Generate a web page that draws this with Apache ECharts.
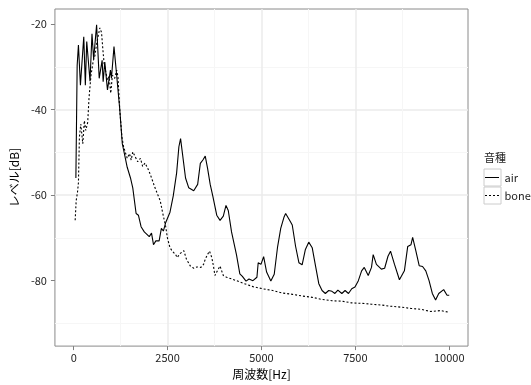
<!DOCTYPE html>
<html>
<head>
<meta charset="utf-8">
<script src="https://cdn.jsdelivr.net/npm/echarts@6/dist/echarts.min.js"></script>
<style>
  html, body { margin: 0; padding: 0; background: #fff; }
  #chart { width: 531px; height: 385px; }
</style>
</head>
<body>
<div id="chart"></div>
<script>
// x ticks / y ticks / legend
const xTicks = [0, 2500, 5000, 7500, 10000];
const yTicks = [-80, -60, -40, -20];
const seriesNames = ['air', 'bone'];

// air conduction spectrum (Hz, dB)
const airHz = [58, 92, 126, 179, 268, 310, 347, 389, 434, 487, 531, 610, 679, 757, 784, 828, 899, 978, 1005, 1073,
  1144, 1178, 1223, 1294, 1354, 1425, 1512, 1573, 1662, 1723, 1794, 1880, 2012, 2072, 2125, 2188, 2275, 2335, 2388, 2451,
  2564, 2651, 2741, 2801, 2846, 2888, 2978, 3064, 3196, 3301, 3372, 3440, 3503, 3564, 3635, 3703, 3809, 3897, 3984, 4055,
  4116, 4203, 4334, 4424, 4492, 4589, 4668, 4773, 4879, 4913, 4987, 5058, 5137, 5250, 5340, 5426, 5513, 5602, 5644, 5776,
  5820, 5907, 5997, 6083, 6170, 6259, 6351, 6438, 6527, 6614, 6701, 6791, 6877, 6956, 7035, 7140, 7227, 7317, 7404, 7490,
  7580, 7667, 7738, 7843, 7930, 7975, 8061, 8193, 8280, 8369, 8437, 8543, 8674, 8806, 8895, 8982, 9026, 9113, 9200, 9290,
  9376, 9463, 9550, 9637, 9721, 9765, 9852, 9942, 10000];
const airDb = [-56, -29.7, -24.9, -34.3, -23, -34.3, -24.1, -24.5, -33.4, -22.3, -28.2, -20.2, -32.7, -28.5, -33.5, -28.9, -35.4, -30.8, -32.7, -25.3,
  -32, -32.3, -39.6, -48, -50.5, -53.5, -56, -58.3, -64.3, -64.7, -67.4, -68.6, -69.7, -68.9, -71.6, -70.7, -70.7, -67.8, -68.4, -66.4,
  -64, -60.2, -54.8, -48.7, -46.8, -47.2, -56, -58.3, -59, -57.5, -52.6, -51.8, -50.9, -53.7, -57.5, -60.2, -64.7, -65.9, -64.9, -62.4,
  -63.6, -68.6, -73.9, -78.4, -79, -80.1, -79.6, -80, -79.2, -75.8, -76.2, -74.4, -78, -80.1, -78.5, -72.3, -67.8, -65.1, -64.3, -66.3,
  -67, -71.9, -75.8, -76.3, -72.7, -71, -72.3, -76.5, -80.7, -82.3, -83, -82.3, -82.5, -83, -82.2, -83, -82.3, -83, -81.9, -81.5,
  -80, -77.7, -76.9, -78.8, -76.9, -73.9, -76.2, -77.3, -77.1, -74.3, -73.1, -76.2, -79.8, -77.7, -72, -71.6, -69.9, -73.1, -76.5, -76.7,
  -77.7, -80, -83, -84.5, -83, -83.4, -82.1, -83.4, -83.4];

// bone conduction spectrum (Hz, dB)
const boneHz = [39, 66, 100, 126, 152, 189, 242, 284, 321, 373, 408, 460, 521, 565, 610, 652, 697, 741, 776, 810,
  855, 899, 942, 986, 1031, 1091, 1144, 1178, 1223, 1283, 1328, 1425, 1486, 1531, 1573, 1636, 1705, 1776, 1836, 1899,
  1970, 2041, 2101, 2165, 2233, 2304, 2365, 2451, 2495, 2564, 2625, 2714, 2756, 2827, 2932, 3003, 3108, 3196, 3283, 3388,
  3459, 3503, 3564, 3616, 3677, 3722, 3761, 3827, 3897, 3940, 3984, 4071, 4203, 4334, 4510, 4773, 5036, 5299, 5562, 5826,
  6089, 6352, 6615, 6877, 7140, 7404, 7667, 7930, 8193, 8456, 8719, 8982, 9245, 9508, 9771, 10000];
const boneDb = [-65.9, -61.3, -59.4, -57.1, -46.4, -43.4, -48, -42.6, -44.9, -43, -37.3, -32, -28.6, -27.4, -24.7, -22.8, -20.9, -22, -25.9, -29.3,
  -28.9, -33.1, -32.3, -36.2, -32, -32.7, -30.8, -32.3, -39.6, -46.4, -48.7, -51.4, -50.3, -51.8, -49.9, -51, -52.2, -51.4, -53.3, -52.5,
  -53.7, -55.2, -56.7, -58.3, -59.8, -61.3, -64, -67.4, -70, -72.3, -73.1, -73.9, -74.6, -73.7, -73, -75, -76.6, -77.1, -76.8, -76.9,
  -76.2, -75, -73.9, -73.1, -74.6, -76.6, -78.8, -77.7, -76.6, -77.7, -78.8, -79.2, -79.6, -80, -80.6, -81.4, -81.9, -82.3, -82.9, -83.2,
  -83.6, -83.9, -84.4, -84.7, -84.8, -85.2, -85.3, -85.5, -85.7, -86, -86.2, -86.5, -86.7, -87.2, -87, -87.4];

const font = '"Noto Sans CJK JP", "Noto Sans", sans-serif';

// legend keys: solid bar and short dashes
const solidIcon = 'path://M0,0H14V1H0Z';
const dottedIcon = 'path://M0,0H2V1H0Z M4,0H6V1H4Z M8,0H10V1H8Z M12,0H14V1H12Z';

const chart = echarts.init(document.getElementById('chart'), null, { renderer: 'canvas' });

const option = {
  animation: false,
  backgroundColor: '#fff',
  title: {
    text: '音種',
    left: 484,
    top: 152,
    padding: 0,
    textStyle: { fontSize: 11, fontWeight: 'normal', color: '#222', fontFamily: font },
  },
  legend: {
    data: [
      { name: seriesNames[0], icon: solidIcon },
      { name: seriesNames[1], icon: dottedIcon },
    ],
    orient: 'vertical',
    left: 485,
    top: 169,
    padding: 0,
    itemWidth: 15,
    itemHeight: 1,
    itemGap: 1,
    z: 5,
    textStyle: { fontSize: 11, lineHeight: 17, color: '#222', fontFamily: font },
  },
  graphic: [
    { type: 'rect', z: 1, shape: { x: 484, y: 169, width: 17, height: 17 }, style: { fill: '#fff', stroke: '#ccc', lineWidth: 1 } },
    { type: 'rect', z: 1, shape: { x: 484, y: 187, width: 17, height: 17 }, style: { fill: '#fff', stroke: '#ccc', lineWidth: 1 } },
  ],
  grid: {
    left: 50,
    right: 63,
    top: 9,
    bottom: 32,
    show: true,
    borderColor: '#8a8a8a',
    borderWidth: 1,
    backgroundColor: '#fff',
  },
  xAxis: {
    type: 'value',
    min: -500,
    max: 10500,
    minInterval: 2500,
    maxInterval: 2500,
    name: '周波数[Hz]',
    nameLocation: 'middle',
    nameGap: 19,
    nameTextStyle: { fontSize: 12, color: '#000', fontFamily: font },
    axisLine: { show: false, onZero: false },
    axisTick: { show: true, length: 4, customValues: xTicks, lineStyle: { color: '#7f7f7f' } },
    axisLabel: { customValues: xTicks, margin: 6, fontSize: 11, color: '#222', fontFamily: font, formatter: (v) => String(v) },
    splitLine: { show: true, showMinLine: false, showMaxLine: false, lineStyle: { color: '#ebebeb', width: 1.5 } },
    minorTick: { show: false, splitNumber: 2 },
    minorSplitLine: { show: true, lineStyle: { color: '#f6f6f6', width: 1 } },
  },
  yAxis: {
    type: 'value',
    min: -95.3,
    max: -16.5,
    minInterval: 20,
    maxInterval: 20,
    name: 'レベル[dB]',
    nameLocation: 'middle',
    nameGap: 30,
    nameTextStyle: { fontSize: 12, color: '#000', fontFamily: font },
    axisLine: { show: false, onZero: false },
    axisTick: { show: true, length: 4, customValues: yTicks, lineStyle: { color: '#7f7f7f' } },
    axisLabel: { customValues: yTicks, margin: 8, fontSize: 11, color: '#222', fontFamily: font, formatter: (v) => String(v) },
    splitLine: { show: true, showMinLine: false, showMaxLine: false, lineStyle: { color: '#ebebeb', width: 1.5 } },
    minorTick: { show: false, splitNumber: 2 },
    minorSplitLine: { show: true, lineStyle: { color: '#f6f6f6', width: 1 } },
  },
  series: [
    {
      name: 'air',
      type: 'line',
      showSymbol: false,
      symbol: 'none',
      color: '#000',
      lineStyle: { color: '#000', width: 1.1, type: 'solid' },
      data: airHz.map((x, i) => [x, airDb[i]]),
    },
    {
      name: 'bone',
      type: 'line',
      showSymbol: false,
      symbol: 'none',
      color: '#000',
      lineStyle: { color: '#000', width: 1.1, type: [2, 2] },
      data: boneHz.map((x, i) => [x, boneDb[i]]),
    },
  ],
};

chart.setOption(option);
</script>
</body>
</html>
